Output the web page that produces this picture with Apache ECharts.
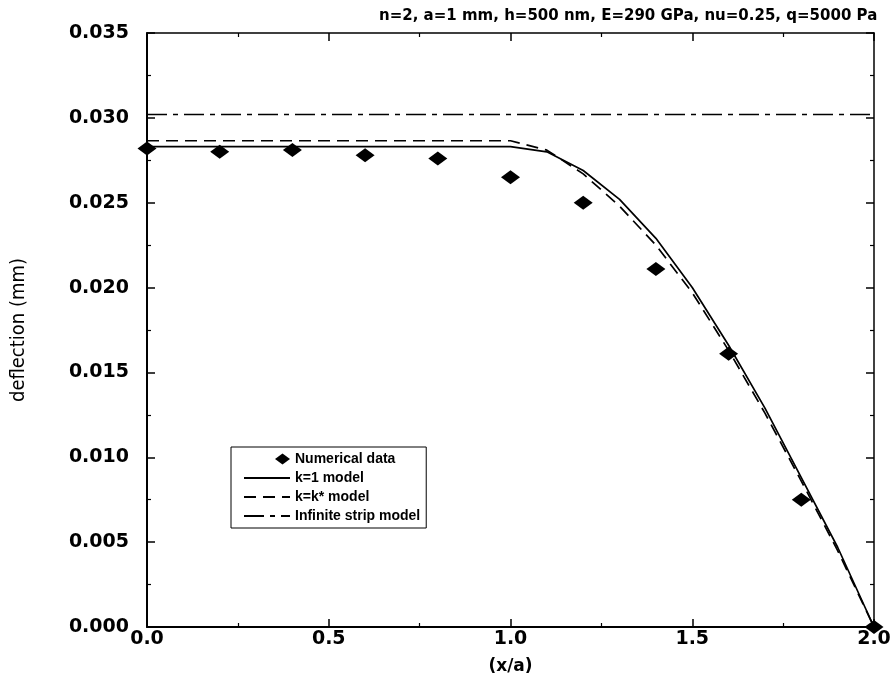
<!DOCTYPE html>
<html><head><meta charset="utf-8">
<script src="https://cdn.jsdelivr.net/npm/echarts@6/dist/echarts.min.js"></script>
<style>html,body{margin:0;padding:0;background:#fff}#c{width:894px;height:680px}</style>
</head><body><div id="c"></div>
<script>
const titleText = 'n=2, a=1 mm, h=500 nm, E=290 GPa, nu=0.25, q=5000 Pa';
const seriesNames = ['Numerical data', 'k=1 model', 'k=k* model', 'Infinite strip model'];
// model curves sampled at x/a
const modelX = [0.0, 0.1, 0.2, 0.3, 0.4, 0.5, 0.6, 0.7, 0.8, 0.9, 1.0, 1.1, 1.2, 1.3, 1.4, 1.5, 1.6, 1.7, 1.8, 1.9, 2.0];
const k1Model = [0.0283, 0.0283, 0.0283, 0.0283, 0.0283, 0.0283, 0.0283, 0.0283, 0.0283, 0.0283, 0.0283, 0.0280, 0.0269, 0.0252, 0.0229, 0.0200, 0.0166, 0.0129, 0.0088, 0.0047, 0.0000];
const kStarModel = [0.02865, 0.02865, 0.02865, 0.02865, 0.02865, 0.02865, 0.02865, 0.02865, 0.02865, 0.02865, 0.02865, 0.0281, 0.0267, 0.0248, 0.0225, 0.0197, 0.0163, 0.0126, 0.0086, 0.0045, 0.0000];
// numerical data
const numX = [0.0, 0.2, 0.4, 0.6, 0.8, 1.0, 1.2, 1.4, 1.6, 1.8, 2.0];
const numY = [0.0282, 0.0280, 0.0281, 0.0278, 0.0276, 0.0265, 0.0250, 0.0211, 0.0161, 0.0075, 0.0000];
// infinite strip
const stripX = [0.0, 2.0];
const stripY = [0.0302, 0.0302];
// axes
const xMin = 0, xMax = 2, xStep = 0.5;
const yMin = 0, yMax = 0.035, yStep = 0.005;
const xTitle = '(x/a)';
const yTitle = 'deflection (mm)';

const chart = echarts.init(document.getElementById('c'), null, {renderer: 'canvas'});
const tickFont = {fontFamily: 'DejaVu Sans', fontWeight: 'bold', fontSize: 19, color: '#000'};
const axLine = {show: true, onZero: false, lineStyle: {color: '#000', width: 2}};
const hiddenSymbol = {opacity: 0};
const option = {
  backgroundColor: '#fff',
  animation: false,
  title: {
    text: titleText, left: 374, top: 4,
    textStyle: {fontFamily: 'DejaVu Sans', fontWeight: 'bold', fontSize: 15, color: '#000'}
  },
  grid: {left: 147, right: 20, top: 33, bottom: 50, containLabel: false},
  legend: {
    orient: 'vertical', left: 231, top: 447,
    data: [
      {name: seriesNames[0], icon: 'path://M0,6 L0,6 M31,6 L38.5,0.5 L46,6 L38.5,11.5 Z'},
      {name: seriesNames[1], itemStyle: hiddenSymbol},
      {name: seriesNames[2], itemStyle: hiddenSymbol},
      {name: seriesNames[3], itemStyle: hiddenSymbol}
    ],
    itemWidth: 46, itemHeight: 12, itemGap: 5,
    padding: [5, 6, 5, 12],
    borderColor: '#000', borderWidth: 1,
    textStyle: {fontFamily: 'Liberation Sans', fontWeight: 'bold', fontSize: 14, color: '#000'}
  },
  xAxis: [{
    type: 'value', min: xMin, max: xMax, interval: xStep, position: 'bottom',
    name: xTitle, nameLocation: 'middle', nameGap: 31,
    nameTextStyle: {fontFamily: 'DejaVu Sans', fontWeight: 'bold', fontSize: 17, color: '#000'},
    axisLine: axLine,
    axisTick: {show: true, inside: true, length: 8, lineStyle: {color: '#000', width: 1.5}},
    minorTick: {show: true, splitNumber: 2, length: 4, lineStyle: {color: '#000', width: 1.2}},
    axisLabel: Object.assign({margin: 3, formatter: v => v.toFixed(1)}, tickFont),
    splitLine: {show: false}
  }, {
    type: 'value', min: xMin, max: xMax, interval: xStep, position: 'top',
    axisLine: {show: true, onZero: false, lineStyle: {color: '#000', width: 1.5}},
    axisTick: {show: true, inside: true, length: 8, lineStyle: {color: '#000', width: 1.5}},
    minorTick: {show: true, splitNumber: 2, length: 4, lineStyle: {color: '#000', width: 1.2}},
    axisLabel: {show: false}, splitLine: {show: false}
  }],
  yAxis: [{
    type: 'value', min: yMin, max: yMax, interval: yStep, position: 'left',
    name: yTitle, nameLocation: 'middle', nameGap: 118, nameRotate: 90,
    nameTextStyle: {fontFamily: 'DejaVu Sans Condensed', fontSize: 20, color: '#000'},
    axisLine: axLine,
    axisTick: {show: true, inside: true, length: 8, lineStyle: {color: '#000', width: 1.5}},
    minorTick: {show: true, splitNumber: 2, length: 4, lineStyle: {color: '#000', width: 1.2}},
    axisLabel: Object.assign({margin: 18, formatter: v => v.toFixed(3)}, tickFont),
    splitLine: {show: false}
  }, {
    type: 'value', min: yMin, max: yMax, interval: yStep, position: 'right',
    axisLine: {show: true, onZero: false, lineStyle: {color: '#000', width: 1.5}},
    axisTick: {show: true, inside: true, length: 8, lineStyle: {color: '#000', width: 1.5}},
    minorTick: {show: true, splitNumber: 2, length: 4, lineStyle: {color: '#000', width: 1.2}},
    axisLabel: {show: false}, splitLine: {show: false}
  }],
  series: [
    {
      name: seriesNames[0], type: 'scatter', symbol: 'diamond', symbolSize: [19, 14],
      itemStyle: {color: '#000', opacity: 1}, z: 5,
      data: numX.map((x, i) => [x, numY[i]])
    },
    {
      name: seriesNames[1], type: 'line', symbol: 'none', showSymbol: false,
      lineStyle: {color: '#000', width: 1.7, type: 'solid'}, itemStyle: {color: '#000'},
      data: modelX.map((x, i) => [x, k1Model[i]])
    },
    {
      name: seriesNames[2], type: 'line', symbol: 'none', showSymbol: false,
      lineStyle: {color: '#000', width: 1.7, type: [12, 7]}, itemStyle: {color: '#000'},
      data: modelX.map((x, i) => [x, kStarModel[i]])
    },
    {
      name: seriesNames[3], type: 'line', symbol: 'none', showSymbol: false,
      lineStyle: {color: '#000', width: 1.4, type: [20, 6, 5, 6]}, itemStyle: {color: '#000'},
      data: stripX.map((x, i) => [x, stripY[i]])
    }
  ]
};
chart.setOption(option);
</script>
</body></html>
